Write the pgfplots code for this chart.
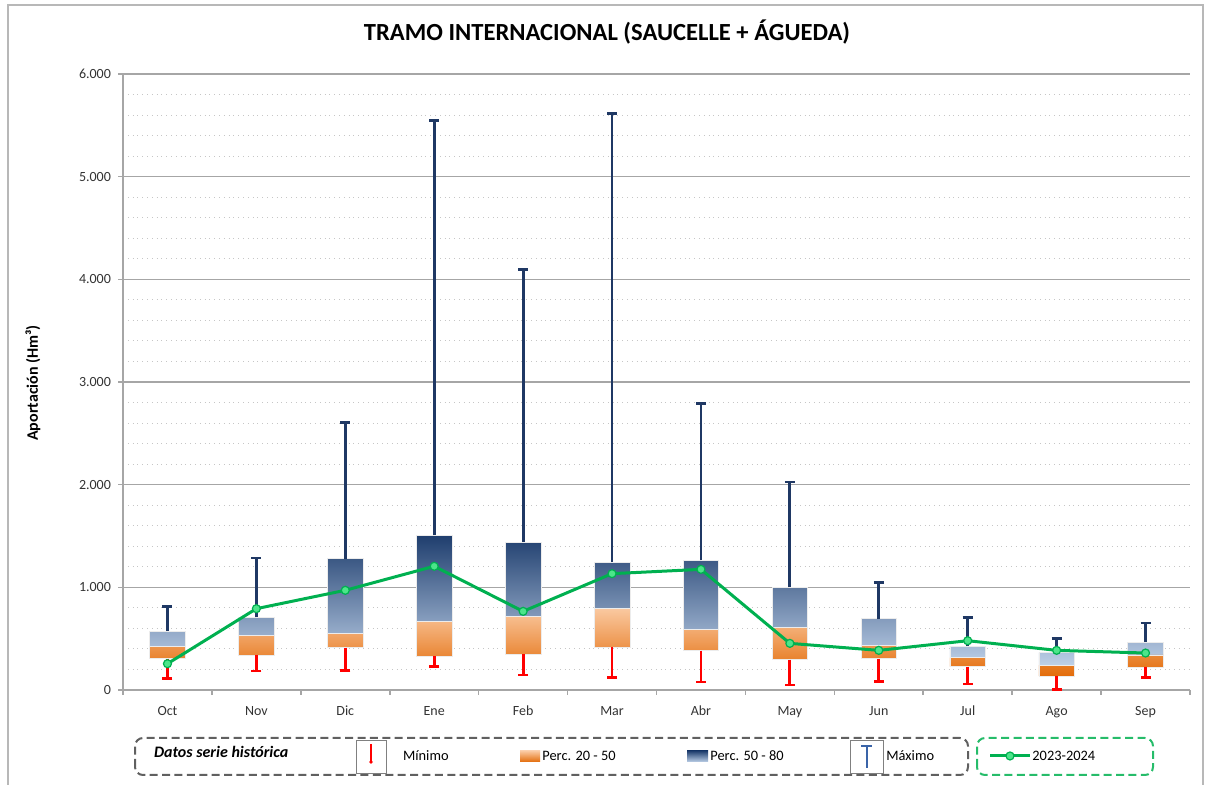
\documentclass[border=0pt]{standalone}
\usepackage{pgfplots}
\pgfplotsset{compat=1.18}
\usepackage{pgfplotstable}
\usepackage{fontspec}
\setmainfont{Carlito}
\definecolor{navy}{HTML}{1F3864}
\definecolor{OrLight}{HTML}{FAC9A1}
\definecolor{OrMid}{HTML}{F5AA72}
\definecolor{OrDark}{HTML}{E36C0A}
\definecolor{BlDark}{HTML}{1F3E6E}
\definecolor{BlMid}{HTML}{A9BEDC}
\definecolor{BlLight}{HTML}{BDD0E8}
\definecolor{grn}{HTML}{00B050}
\definecolor{grnLight}{HTML}{4CE58A}
\definecolor{axgray}{HTML}{A6A6A6}
\definecolor{iconblue}{HTML}{3A64A8}

\pgfplotstableread{
x min p20 p50 p80 max cur
0 114 305 428 574 811 256
1 185 341 529 708 1285 792
2 188 412 555 1280 2605 971
3 231 328 665 1505 5545 1205
4 146 347 714 1440 4095 766
5 123 415 798 1245 5615 1133
6 78 383 587 1263 2790 1175
7 49 295 607 1000 2025 454
8 81 305 435 694 1050 386
9 58 227 315 428 705 480
10 8 136 243 363 503 386
11 123 224 341 467 652 360
}\datatable

\begin{document}
\begin{tikzpicture}[x=1pt,y=1pt]
\useasboundingbox (0,0) rectangle (603.5,392.5);
\draw[axgray!80, line width=0.6pt] (4,-5) -- (4,390) -- (601.5,390) -- (601.5,-5);

\begin{axis}[
  anchor=south west, at={(61.5pt,47.5pt)},
  width=533.5pt, height=308pt, scale only axis,
  xmin=-0.5, xmax=11.5, ymin=0, ymax=6000,
  axis x line*=bottom, axis y line*=left,
  axis line style={axgray, line width=0.8pt},
  ytick={0,1000,...,6000},
  minor y tick num=4,
  ymajorgrids, yminorgrids,
  major grid style={axgray, line width=0.8pt},
  minor grid style={gray!45, dotted, line width=0.5pt},
  minor y tick style={draw=none},
  major y tick style={axgray, line width=0.8pt},
  xtick={0,...,11},
  xticklabels={Oct,Nov,Dic,Ene,Feb,Mar,Abr,May,Jun,Jul,Ago,Sep},
  major x tick style={draw=none},
  minor xtick={-0.5,0.5,...,11.5},
  minor x tick style={axgray, line width=0.8pt},
  tick align=outside,
  major tick length=2.5pt, minor tick length=2.5pt,
  ticklabel style={font=\fontsize{7}{8}\selectfont, text=black!80},
  /pgf/number format/assume math mode=true,
  yticklabel style={/pgf/number format/.cd, 1000 sep={.}},
  xticklabel style={yshift=-2pt},
  ybar stacked, bar width=0.4,
]
\addplot[draw=none, fill=none] table[x=x, y=p20] {\datatable};
\addplot[draw=white!85!gray, line width=0.3pt, top color=OrLight, middle color=OrMid, bottom color=OrDark]
  table[x=x, y expr=\thisrow{p50}-\thisrow{p20}] {\datatable};
\addplot[draw=white!85!gray, line width=0.3pt, top color=BlDark, middle color=BlMid, bottom color=BlLight]
  table[x=x, y expr=\thisrow{p80}-\thisrow{p50}] {\datatable};
\end{axis}

\begin{axis}[
  anchor=south west, at={(61.5pt,47.5pt)},
  width=533.5pt, height=308pt, scale only axis,
  xmin=-0.5, xmax=11.5, ymin=0, ymax=6000,
  axis lines=none, clip=false,
]
\addplot[draw=none, mark=none,
  error bars/.cd, y dir=plus, y explicit,
  error mark=-,
  error bar style={draw=navy, line width=1.4pt},
  error mark options={rotate=90, draw=navy, line width=1.4pt, mark size=2.5pt}]
  table[x=x, y=p80, y error plus expr=\thisrow{max}-\thisrow{p80}] {\datatable};
\addplot[draw=none, mark=none,
  error bars/.cd, y dir=minus, y explicit,
  error mark=-,
  error bar style={draw=red, line width=1.4pt},
  error mark options={rotate=90, draw=red, line width=1.4pt, mark size=2.5pt}]
  table[x=x, y=p20, y error minus expr=\thisrow{p20}-\thisrow{min}] {\datatable};
\addplot[color=grn, line width=1.5pt, mark=*, mark size=2pt,
  mark options={fill=grnLight, draw=grn, line width=0.6pt}]
  table[x=x, y=cur] {\datatable};
\end{axis}

% title and y label
\node[font=\bfseries\fontsize{12.3}{14}\selectfont] at (303.5,376.5) {TRAMO INTERNACIONAL (SAUCELLE + ÁGUEDA)};
\node[font=\bfseries\fontsize{8}{10}\selectfont, rotate=90] at (16.5,201) {Aportación (Hm³)};

% legend
\draw[gray!75!black, line width=1pt, dash pattern=on 4pt off 2.2pt, rounded corners=4pt] (67.5,5) rectangle (484,23.5);
\draw[grn!85!white, line width=1pt, dash pattern=on 4pt off 2.2pt, rounded corners=4pt] (488.5,5) rectangle (576.5,23.5);
\node[anchor=west, font=\bfseries\itshape\fontsize{8}{9}\selectfont] at (73.5,16.5) {Datos serie histórica};
% minimo icon
\draw[gray, line width=0.4pt] (178,6) rectangle (193,22.5);
\draw[red, line width=1pt] (185.5,20.5) -- (185.5,11.5);
\fill[red] (185.5,11.5) circle (0.9pt);
\node[anchor=west, font=\fontsize{7.2}{8}\selectfont] at (198,14.5) {Mínimo};
% orange swatch
\shade[top color=OrLight, middle color=OrMid, bottom color=OrDark] (260,11.5) rectangle (270,17);
\node[anchor=west, font=\fontsize{7.2}{8}\selectfont, inner sep=0.5pt] at (270.5,14.5) {Perc. 20 - 50};
% blue swatch
\shade[top color=BlDark, middle color=BlMid, bottom color=BlLight] (343.5,11.5) rectangle (354,17);
\node[anchor=west, font=\fontsize{7.2}{8}\selectfont, inner sep=0.5pt] at (354.5,14.5) {Perc. 50 - 80};
% maximo icon
\draw[gray, line width=0.4pt] (425,6) rectangle (441.5,22.5);
\draw[iconblue, line width=1pt] (433.25,19.5) -- (433.25,8.5);
\draw[iconblue, line width=1.4pt] (430.5,19.5) -- (436,19.5);
\node[anchor=west, font=\fontsize{7.2}{8}\selectfont, inner sep=0.5pt] at (442.5,14.5) {Máximo};
% green legend
\draw[grn, line width=1.5pt] (495,14.5) -- (515,14.5);
\draw[grn, fill=grnLight, line width=0.6pt] (505,14.5) circle (2pt);
\node[anchor=west, font=\fontsize{7.2}{8}\selectfont, inner sep=0.5pt] at (515.5,14.5) {2023-2024};
\end{tikzpicture}
\end{document}
